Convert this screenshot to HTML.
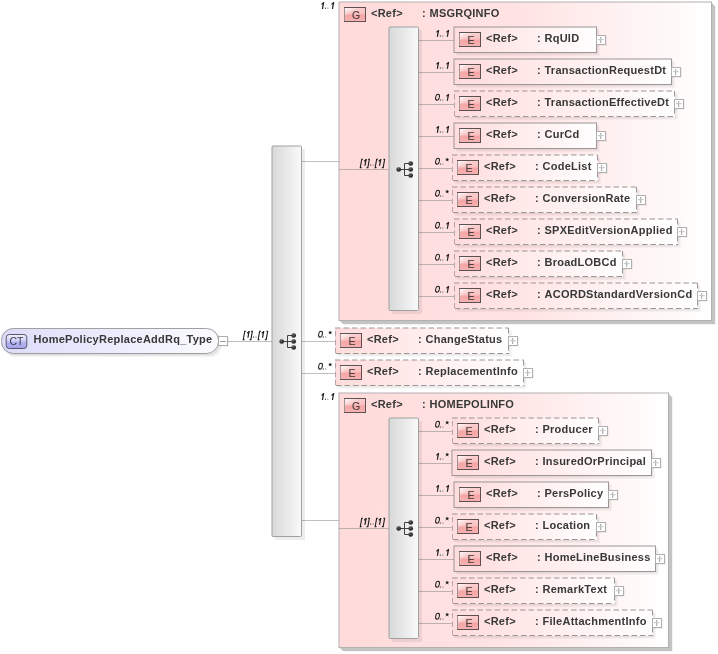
<!DOCTYPE html>
<html><head><meta charset="utf-8"><style>
html,body{margin:0;padding:0;background:#fff;width:718px;height:654px;overflow:hidden}
svg{display:block;will-change:transform}
text{font-family:"Liberation Sans", sans-serif}
text[font-weight=bold]{letter-spacing:0.25px}
.card{font-size:9px;font-style:italic;fill:#1a1a1a;stroke:#1a1a1a;stroke-width:0.2px}
.ctb{font-size:10.5px;fill:#3c3c4c}
.badge{font-size:10.5px;fill:#4a4040;stroke:#4a4040;stroke-width:0.12px}
</style></head><body>
<svg width="718" height="654" viewBox="0 0 718 654">
<defs>
<linearGradient id="grpgrad" x1="0" y1="0" x2="1" y2="0"><stop offset="0" stop-color="#ffdada"/><stop offset="0.5" stop-color="#ffe4e4"/><stop offset="1" stop-color="#ffffff"/></linearGradient>
<linearGradient id="elgrad" x1="0" y1="0" x2="1" y2="0"><stop offset="0" stop-color="#ffdcdc"/><stop offset="1" stop-color="#ffffff"/></linearGradient>
<linearGradient id="bargrad" x1="0" y1="0" x2="1" y2="0"><stop offset="0" stop-color="#d8d8d8"/><stop offset="1" stop-color="#fafafa"/></linearGradient>
<linearGradient id="egrad" x1="0" y1="0" x2="0" y2="1"><stop offset="0" stop-color="#fad0d0"/><stop offset="0.45" stop-color="#f9c0c0"/><stop offset="0.55" stop-color="#f5a4a4"/><stop offset="1" stop-color="#f8b4b4"/></linearGradient>
<linearGradient id="egrad2" x1="0" y1="0" x2="0.7" y2="0.8"><stop offset="0" stop-color="#fff" stop-opacity="0.95"/><stop offset="0.5" stop-color="#fff" stop-opacity="0.0"/><stop offset="1" stop-color="#fff" stop-opacity="0"/></linearGradient>
<linearGradient id="ctgrad" x1="0" y1="0" x2="1" y2="0"><stop offset="0" stop-color="#dcdcfa"/><stop offset="1" stop-color="#fbfbff"/></linearGradient>
<linearGradient id="ctbgrad" x1="0" y1="0" x2="0" y2="1"><stop offset="0" stop-color="#f0f0ff"/><stop offset="0.45" stop-color="#d0d0f8"/><stop offset="0.55" stop-color="#b4b4f2"/><stop offset="1" stop-color="#a4a4ee"/></linearGradient>
<radialGradient id="dotgrad" cx="0.4" cy="0.35" r="0.7"><stop offset="0" stop-color="#6a6a6a"/><stop offset="0.5" stop-color="#333"/><stop offset="1" stop-color="#222"/></radialGradient>
</defs>
<rect x="227" y="341" width="45" height="1" fill="#808080" fill-opacity="0.5"/>
<g transform="translate(242.60,337.70) skewX(-10)"><path d="M2.3 -6.5 H1.0 V1.9 H2.3" stroke="#1c1c1c" stroke-width="1.1" fill="none"/></g><g transform="translate(246.00,337.70) skewX(-10)"><rect x="1.35" y="-6.7" width="1.2" height="6.7" fill="#1c1c1c"/><path d="M2.3 -6.3 L0.3 -4.5" stroke="#1c1c1c" stroke-width="1.3" fill="none"/></g><g transform="translate(249.70,337.70) skewX(-10)"><path d="M0.2 -6.5 H1.5 V1.9 H0.2" stroke="#1c1c1c" stroke-width="1.1" fill="none"/></g><rect x="253.00" y="336.40" width="1.1" height="1.3" fill="#505050"/><rect x="255.50" y="336.40" width="1.1" height="1.3" fill="#8c8c8c"/><g transform="translate(257.50,337.70) skewX(-10)"><path d="M2.3 -6.5 H1.0 V1.9 H2.3" stroke="#1c1c1c" stroke-width="1.1" fill="none"/></g><g transform="translate(260.60,337.70) skewX(-10)"><rect x="1.35" y="-6.7" width="1.2" height="6.7" fill="#1c1c1c"/><path d="M2.3 -6.3 L0.3 -4.5" stroke="#1c1c1c" stroke-width="1.3" fill="none"/></g><g transform="translate(265.00,337.70) skewX(-10)"><path d="M0.2 -6.5 H1.5 V1.9 H0.2" stroke="#1c1c1c" stroke-width="1.1" fill="none"/></g>
<rect x="2" y="329" width="218" height="26" rx="12" fill="#000" fill-opacity="0.06"/>
<rect x="3" y="330" width="218" height="26" rx="12" fill="#000" fill-opacity="0.05"/>
<rect x="4" y="331" width="218" height="26" rx="12" fill="#000" fill-opacity="0.04"/>
<rect x="1" y="328" width="218" height="26" rx="12" fill="#fff"/>
<rect x="1" y="328" width="218" height="26" rx="12" fill="url(#ctgrad)"/>
<rect x="1.5" y="328.5" width="217" height="25" rx="12" fill="none" stroke="#a0a0a0" stroke-width="1"/>
<rect x="6.2" y="334.5" width="20.6" height="14" rx="3" fill="url(#ctbgrad)" stroke="#585868"/>
<text class="ctb" x="16.5" y="345" text-anchor="middle">CT</text>
<text x="33.5" y="343" font-size="11" font-weight="bold" font-style="normal" fill="#383838" text-anchor="start" >HomePolicyReplaceAddRq_Type</text>
<rect x="219" y="337" width="10" height="10" fill="#000" fill-opacity="0.05"/>
<rect x="218.5" y="336.5" width="9" height="9" fill="#fff" stroke="#b0b0b0"/>
<rect x="220" y="341" width="6" height="1" fill="#a0a0a0"/>
<rect x="302" y="341" width="34" height="1" fill="#808080" fill-opacity="0.5"/>
<g transform="translate(317.50,337.70) skewX(-10)"><ellipse cx="2.4" cy="-3.45" rx="1.85" ry="2.9" stroke="#1c1c1c" stroke-width="1.0" fill="none"/></g><rect x="322.80" y="336.40" width="1.1" height="1.3" fill="#505050"/><rect x="325.20" y="336.40" width="1.1" height="1.3" fill="#8c8c8c"/><g transform="translate(327.50,337.70)"><path d="M2.70 -5.00 L2.70 -6.90 M2.70 -5.00 L4.51 -5.59 M2.70 -5.00 L3.82 -3.46 M2.70 -5.00 L1.58 -3.46 M2.70 -5.00 L0.89 -5.59 " stroke="#1c1c1c" stroke-width="0.9" stroke-opacity="0.6" fill="none"/><circle cx="2.7" cy="-5.0" r="1.1" fill="#1c1c1c"/></g>
<rect x="336" y="329" width="174" height="26" rx="0" fill="#000" fill-opacity="0.03"/>
<rect x="337" y="330" width="174" height="26" rx="0" fill="#000" fill-opacity="0.03"/>
<rect x="338" y="331" width="174" height="26" rx="0" fill="#000" fill-opacity="0.03"/>
<rect x="335" y="328" width="174" height="26" rx="0" fill="#fff"/>
<rect x="335" y="328" width="174" height="26" rx="0" fill="url(#elgrad)"/>
<path d="M335 328 H508.5" stroke="#9c9696" stroke-width="1" fill="none" stroke-dasharray="5.5,3"/>
<path d="M335.5 331 V353" stroke="#9c9696" stroke-opacity="0.75" stroke-width="1" fill="none" stroke-dasharray="5.5,3"/>
<path d="M508.5 328 V353.5" stroke="#9c9696" stroke-width="1" fill="none" stroke-dasharray="5.5,3"/>
<path d="M336 353.5 H509" stroke="#9c9696" stroke-width="1" fill="none" stroke-dasharray="5.5,3"/>
<rect x="340.5" y="333.5" width="21" height="14" fill="url(#egrad)"/>
<rect x="340.5" y="333.5" width="21" height="14" fill="url(#egrad2)"/>
<rect x="340.5" y="333.5" width="21" height="14" fill="none" stroke="#5e5050"/>
<rect x="340" y="334" width="1" height="13" fill="#a09494"/>
<text class="badge" x="352" y="344.5" text-anchor="middle">E</text>
<text x="367" y="343" font-size="11" font-weight="bold" font-style="normal" fill="#383838" text-anchor="start" >&lt;Ref&gt;</text>
<text x="418" y="343" font-size="11" font-weight="bold" font-style="normal" fill="#383838" text-anchor="start" >:</text>
<text x="425.5" y="343" font-size="11" font-weight="bold" font-style="normal" fill="#383838" text-anchor="start" >ChangeStatus</text>
<rect x="509" y="337" width="10" height="10" fill="#000" fill-opacity="0.05"/>
<rect x="508.5" y="336.5" width="9" height="9" fill="#fff" stroke="#b0b0b0"/>
<rect x="512.0" y="338" width="1.2" height="6" fill="#b0b0b0"/>
<rect x="510.0" y="340.0" width="5.5" height="1.2" fill="#c8c8c8"/>
<rect x="302" y="373" width="34" height="1" fill="#808080" fill-opacity="0.5"/>
<g transform="translate(317.50,369.70) skewX(-10)"><ellipse cx="2.4" cy="-3.45" rx="1.85" ry="2.9" stroke="#1c1c1c" stroke-width="1.0" fill="none"/></g><rect x="322.80" y="368.40" width="1.1" height="1.3" fill="#505050"/><rect x="325.20" y="368.40" width="1.1" height="1.3" fill="#8c8c8c"/><g transform="translate(327.50,369.70)"><path d="M2.70 -5.00 L2.70 -6.90 M2.70 -5.00 L4.51 -5.59 M2.70 -5.00 L3.82 -3.46 M2.70 -5.00 L1.58 -3.46 M2.70 -5.00 L0.89 -5.59 " stroke="#1c1c1c" stroke-width="0.9" stroke-opacity="0.6" fill="none"/><circle cx="2.7" cy="-5.0" r="1.1" fill="#1c1c1c"/></g>
<rect x="336" y="361" width="189" height="26" rx="0" fill="#000" fill-opacity="0.03"/>
<rect x="337" y="362" width="189" height="26" rx="0" fill="#000" fill-opacity="0.03"/>
<rect x="338" y="363" width="189" height="26" rx="0" fill="#000" fill-opacity="0.03"/>
<rect x="335" y="360" width="189" height="26" rx="0" fill="#fff"/>
<rect x="335" y="360" width="189" height="26" rx="0" fill="url(#elgrad)"/>
<path d="M335 360 H523.5" stroke="#9c9696" stroke-width="1" fill="none" stroke-dasharray="5.5,3"/>
<path d="M335.5 363 V385" stroke="#9c9696" stroke-opacity="0.75" stroke-width="1" fill="none" stroke-dasharray="5.5,3"/>
<path d="M523.5 360 V385.5" stroke="#9c9696" stroke-width="1" fill="none" stroke-dasharray="5.5,3"/>
<path d="M336 385.5 H524" stroke="#9c9696" stroke-width="1" fill="none" stroke-dasharray="5.5,3"/>
<rect x="340.5" y="365.5" width="21" height="14" fill="url(#egrad)"/>
<rect x="340.5" y="365.5" width="21" height="14" fill="url(#egrad2)"/>
<rect x="340.5" y="365.5" width="21" height="14" fill="none" stroke="#5e5050"/>
<rect x="340" y="366" width="1" height="13" fill="#a09494"/>
<text class="badge" x="352" y="376.5" text-anchor="middle">E</text>
<text x="367" y="375" font-size="11" font-weight="bold" font-style="normal" fill="#383838" text-anchor="start" >&lt;Ref&gt;</text>
<text x="418" y="375" font-size="11" font-weight="bold" font-style="normal" fill="#383838" text-anchor="start" >:</text>
<text x="425.5" y="375" font-size="11" font-weight="bold" font-style="normal" fill="#383838" text-anchor="start" >ReplacementInfo</text>
<rect x="524" y="369" width="10" height="10" fill="#000" fill-opacity="0.05"/>
<rect x="523.5" y="368.5" width="9" height="9" fill="#fff" stroke="#b0b0b0"/>
<rect x="527.0" y="370" width="1.2" height="6" fill="#b0b0b0"/>
<rect x="525.0" y="372.0" width="5.5" height="1.2" fill="#c8c8c8"/>
<rect x="302" y="161" width="37" height="1" fill="#808080" fill-opacity="0.5"/>
<g transform="translate(320.50,8.90) skewX(-10)"><rect x="1.35" y="-6.7" width="1.2" height="6.7" fill="#1c1c1c"/><path d="M2.3 -6.3 L0.3 -4.5" stroke="#1c1c1c" stroke-width="1.3" fill="none"/></g><rect x="324.90" y="7.60" width="1.1" height="1.3" fill="#505050"/><rect x="327.30" y="7.60" width="1.1" height="1.3" fill="#8c8c8c"/><g transform="translate(330.50,8.90) skewX(-10)"><rect x="1.35" y="-6.7" width="1.2" height="6.7" fill="#1c1c1c"/><path d="M2.3 -6.3 L0.3 -4.5" stroke="#1c1c1c" stroke-width="1.3" fill="none"/></g>
<path d="M712 3 L715 6 V324 H343 L340 321 H712 Z" fill="#000" fill-opacity="0.23"/>
<path d="M715 6 H716 V325 H344 V324 H715 Z" fill="#000" fill-opacity="0.05"/>
<rect x="339" y="2" width="373" height="319" rx="0" fill="#fff"/>
<rect x="339" y="2" width="373" height="319" rx="0" fill="url(#grpgrad)"/>
<rect x="339" y="2" width="372.5" height="318.5" rx="0" fill="none" stroke="#b4b0b0" stroke-width="1"/>
<rect x="344.5" y="7.5" width="21" height="14" fill="url(#egrad)"/>
<rect x="344.5" y="7.5" width="21" height="14" fill="url(#egrad2)"/>
<rect x="344.5" y="7.5" width="21" height="14" fill="none" stroke="#5e5050"/>
<rect x="344" y="8" width="1" height="13" fill="#a09494"/>
<text class="badge" x="356" y="18.5" text-anchor="middle">G</text>
<text x="371" y="17" font-size="11" font-weight="bold" font-style="normal" fill="#383838" text-anchor="start" >&lt;Ref&gt;</text>
<text x="422" y="17" font-size="11" font-weight="bold" font-style="normal" fill="#383838" text-anchor="start" >:</text>
<text x="429.5" y="17" font-size="11" font-weight="bold" font-style="normal" fill="#383838" text-anchor="start" >MSGRQINFO</text>
<rect x="339" y="169" width="50" height="1" fill="#808080" fill-opacity="0.5"/>
<g transform="translate(359.60,165.70) skewX(-10)"><path d="M2.3 -6.5 H1.0 V1.9 H2.3" stroke="#1c1c1c" stroke-width="1.1" fill="none"/></g><g transform="translate(363.00,165.70) skewX(-10)"><rect x="1.35" y="-6.7" width="1.2" height="6.7" fill="#1c1c1c"/><path d="M2.3 -6.3 L0.3 -4.5" stroke="#1c1c1c" stroke-width="1.3" fill="none"/></g><g transform="translate(366.70,165.70) skewX(-10)"><path d="M0.2 -6.5 H1.5 V1.9 H0.2" stroke="#1c1c1c" stroke-width="1.1" fill="none"/></g><rect x="370.00" y="164.40" width="1.1" height="1.3" fill="#505050"/><rect x="372.50" y="164.40" width="1.1" height="1.3" fill="#8c8c8c"/><g transform="translate(374.50,165.70) skewX(-10)"><path d="M2.3 -6.5 H1.0 V1.9 H2.3" stroke="#1c1c1c" stroke-width="1.1" fill="none"/></g><g transform="translate(377.60,165.70) skewX(-10)"><rect x="1.35" y="-6.7" width="1.2" height="6.7" fill="#1c1c1c"/><path d="M2.3 -6.3 L0.3 -4.5" stroke="#1c1c1c" stroke-width="1.3" fill="none"/></g><g transform="translate(382.00,165.70) skewX(-10)"><path d="M0.2 -6.5 H1.5 V1.9 H0.2" stroke="#1c1c1c" stroke-width="1.1" fill="none"/></g>
<rect x="419" y="40" width="36" height="1" fill="#808080" fill-opacity="0.5"/>
<g transform="translate(435.40,36.70) skewX(-10)"><rect x="1.35" y="-6.7" width="1.2" height="6.7" fill="#1c1c1c"/><path d="M2.3 -6.3 L0.3 -4.5" stroke="#1c1c1c" stroke-width="1.3" fill="none"/></g><rect x="439.80" y="35.40" width="1.1" height="1.3" fill="#505050"/><rect x="442.20" y="35.40" width="1.1" height="1.3" fill="#8c8c8c"/><g transform="translate(445.40,36.70) skewX(-10)"><rect x="1.35" y="-6.7" width="1.2" height="6.7" fill="#1c1c1c"/><path d="M2.3 -6.3 L0.3 -4.5" stroke="#1c1c1c" stroke-width="1.3" fill="none"/></g>
<rect x="455" y="28" width="143" height="26" rx="0" fill="#000" fill-opacity="0.03"/>
<rect x="456" y="29" width="143" height="26" rx="0" fill="#000" fill-opacity="0.03"/>
<rect x="457" y="30" width="143" height="26" rx="0" fill="#000" fill-opacity="0.03"/>
<rect x="454" y="27" width="143" height="26" rx="0" fill="#fff"/>
<rect x="454" y="27" width="143" height="26" rx="0" fill="url(#elgrad)"/>
<rect x="454" y="27" width="142.5" height="25.5" rx="0" fill="none" stroke="#9c9696" stroke-width="1"/>
<rect x="459.5" y="32.5" width="21" height="14" fill="url(#egrad)"/>
<rect x="459.5" y="32.5" width="21" height="14" fill="url(#egrad2)"/>
<rect x="459.5" y="32.5" width="21" height="14" fill="none" stroke="#5e5050"/>
<rect x="459" y="33" width="1" height="13" fill="#a09494"/>
<text class="badge" x="471" y="43.5" text-anchor="middle">E</text>
<text x="486" y="42" font-size="11" font-weight="bold" font-style="normal" fill="#383838" text-anchor="start" >&lt;Ref&gt;</text>
<text x="537" y="42" font-size="11" font-weight="bold" font-style="normal" fill="#383838" text-anchor="start" >:</text>
<text x="544.5" y="42" font-size="11" font-weight="bold" font-style="normal" fill="#383838" text-anchor="start" >RqUID</text>
<rect x="597" y="36" width="10" height="10" fill="#000" fill-opacity="0.05"/>
<rect x="596.5" y="35.5" width="9" height="9" fill="#fff" stroke="#b0b0b0"/>
<rect x="600.0" y="37" width="1.2" height="6" fill="#b0b0b0"/>
<rect x="598.0" y="39.0" width="5.5" height="1.2" fill="#c8c8c8"/>
<rect x="419" y="72" width="36" height="1" fill="#808080" fill-opacity="0.5"/>
<g transform="translate(435.40,68.70) skewX(-10)"><rect x="1.35" y="-6.7" width="1.2" height="6.7" fill="#1c1c1c"/><path d="M2.3 -6.3 L0.3 -4.5" stroke="#1c1c1c" stroke-width="1.3" fill="none"/></g><rect x="439.80" y="67.40" width="1.1" height="1.3" fill="#505050"/><rect x="442.20" y="67.40" width="1.1" height="1.3" fill="#8c8c8c"/><g transform="translate(445.40,68.70) skewX(-10)"><rect x="1.35" y="-6.7" width="1.2" height="6.7" fill="#1c1c1c"/><path d="M2.3 -6.3 L0.3 -4.5" stroke="#1c1c1c" stroke-width="1.3" fill="none"/></g>
<rect x="455" y="60" width="218" height="26" rx="0" fill="#000" fill-opacity="0.03"/>
<rect x="456" y="61" width="218" height="26" rx="0" fill="#000" fill-opacity="0.03"/>
<rect x="457" y="62" width="218" height="26" rx="0" fill="#000" fill-opacity="0.03"/>
<rect x="454" y="59" width="218" height="26" rx="0" fill="#fff"/>
<rect x="454" y="59" width="218" height="26" rx="0" fill="url(#elgrad)"/>
<rect x="454" y="59" width="217.5" height="25.5" rx="0" fill="none" stroke="#9c9696" stroke-width="1"/>
<rect x="459.5" y="64.5" width="21" height="14" fill="url(#egrad)"/>
<rect x="459.5" y="64.5" width="21" height="14" fill="url(#egrad2)"/>
<rect x="459.5" y="64.5" width="21" height="14" fill="none" stroke="#5e5050"/>
<rect x="459" y="65" width="1" height="13" fill="#a09494"/>
<text class="badge" x="471" y="75.5" text-anchor="middle">E</text>
<text x="486" y="74" font-size="11" font-weight="bold" font-style="normal" fill="#383838" text-anchor="start" >&lt;Ref&gt;</text>
<text x="537" y="74" font-size="11" font-weight="bold" font-style="normal" fill="#383838" text-anchor="start" >:</text>
<text x="544.5" y="74" font-size="11" font-weight="bold" font-style="normal" fill="#383838" text-anchor="start" >TransactionRequestDt</text>
<rect x="672" y="68" width="10" height="10" fill="#000" fill-opacity="0.05"/>
<rect x="671.5" y="67.5" width="9" height="9" fill="#fff" stroke="#b0b0b0"/>
<rect x="675.0" y="69" width="1.2" height="6" fill="#b0b0b0"/>
<rect x="673.0" y="71.0" width="5.5" height="1.2" fill="#c8c8c8"/>
<rect x="419" y="104" width="36" height="1" fill="#808080" fill-opacity="0.5"/>
<g transform="translate(434.50,100.70) skewX(-10)"><ellipse cx="2.4" cy="-3.45" rx="1.85" ry="2.9" stroke="#1c1c1c" stroke-width="1.0" fill="none"/></g><rect x="439.80" y="99.40" width="1.1" height="1.3" fill="#505050"/><rect x="442.20" y="99.40" width="1.1" height="1.3" fill="#8c8c8c"/><g transform="translate(445.40,100.70) skewX(-10)"><rect x="1.35" y="-6.7" width="1.2" height="6.7" fill="#1c1c1c"/><path d="M2.3 -6.3 L0.3 -4.5" stroke="#1c1c1c" stroke-width="1.3" fill="none"/></g>
<rect x="455" y="92" width="221" height="26" rx="0" fill="#000" fill-opacity="0.03"/>
<rect x="456" y="93" width="221" height="26" rx="0" fill="#000" fill-opacity="0.03"/>
<rect x="457" y="94" width="221" height="26" rx="0" fill="#000" fill-opacity="0.03"/>
<rect x="454" y="91" width="221" height="26" rx="0" fill="#fff"/>
<rect x="454" y="91" width="221" height="26" rx="0" fill="url(#elgrad)"/>
<path d="M454 91 H674.5" stroke="#9c9696" stroke-width="1" fill="none" stroke-dasharray="5.5,3"/>
<path d="M454.5 94 V116" stroke="#9c9696" stroke-opacity="0.75" stroke-width="1" fill="none" stroke-dasharray="5.5,3"/>
<path d="M674.5 91 V116.5" stroke="#9c9696" stroke-width="1" fill="none" stroke-dasharray="5.5,3"/>
<path d="M455 116.5 H675" stroke="#9c9696" stroke-width="1" fill="none" stroke-dasharray="5.5,3"/>
<rect x="459.5" y="96.5" width="21" height="14" fill="url(#egrad)"/>
<rect x="459.5" y="96.5" width="21" height="14" fill="url(#egrad2)"/>
<rect x="459.5" y="96.5" width="21" height="14" fill="none" stroke="#5e5050"/>
<rect x="459" y="97" width="1" height="13" fill="#a09494"/>
<text class="badge" x="471" y="107.5" text-anchor="middle">E</text>
<text x="486" y="106" font-size="11" font-weight="bold" font-style="normal" fill="#383838" text-anchor="start" >&lt;Ref&gt;</text>
<text x="537" y="106" font-size="11" font-weight="bold" font-style="normal" fill="#383838" text-anchor="start" >:</text>
<text x="544.5" y="106" font-size="11" font-weight="bold" font-style="normal" fill="#383838" text-anchor="start" >TransactionEffectiveDt</text>
<rect x="675" y="100" width="10" height="10" fill="#000" fill-opacity="0.05"/>
<rect x="674.5" y="99.5" width="9" height="9" fill="#fff" stroke="#b0b0b0"/>
<rect x="678.0" y="101" width="1.2" height="6" fill="#b0b0b0"/>
<rect x="676.0" y="103.0" width="5.5" height="1.2" fill="#c8c8c8"/>
<rect x="419" y="136" width="36" height="1" fill="#808080" fill-opacity="0.5"/>
<g transform="translate(435.40,132.70) skewX(-10)"><rect x="1.35" y="-6.7" width="1.2" height="6.7" fill="#1c1c1c"/><path d="M2.3 -6.3 L0.3 -4.5" stroke="#1c1c1c" stroke-width="1.3" fill="none"/></g><rect x="439.80" y="131.40" width="1.1" height="1.3" fill="#505050"/><rect x="442.20" y="131.40" width="1.1" height="1.3" fill="#8c8c8c"/><g transform="translate(445.40,132.70) skewX(-10)"><rect x="1.35" y="-6.7" width="1.2" height="6.7" fill="#1c1c1c"/><path d="M2.3 -6.3 L0.3 -4.5" stroke="#1c1c1c" stroke-width="1.3" fill="none"/></g>
<rect x="455" y="124" width="143" height="26" rx="0" fill="#000" fill-opacity="0.03"/>
<rect x="456" y="125" width="143" height="26" rx="0" fill="#000" fill-opacity="0.03"/>
<rect x="457" y="126" width="143" height="26" rx="0" fill="#000" fill-opacity="0.03"/>
<rect x="454" y="123" width="143" height="26" rx="0" fill="#fff"/>
<rect x="454" y="123" width="143" height="26" rx="0" fill="url(#elgrad)"/>
<rect x="454" y="123" width="142.5" height="25.5" rx="0" fill="none" stroke="#9c9696" stroke-width="1"/>
<rect x="459.5" y="128.5" width="21" height="14" fill="url(#egrad)"/>
<rect x="459.5" y="128.5" width="21" height="14" fill="url(#egrad2)"/>
<rect x="459.5" y="128.5" width="21" height="14" fill="none" stroke="#5e5050"/>
<rect x="459" y="129" width="1" height="13" fill="#a09494"/>
<text class="badge" x="471" y="139.5" text-anchor="middle">E</text>
<text x="486" y="138" font-size="11" font-weight="bold" font-style="normal" fill="#383838" text-anchor="start" >&lt;Ref&gt;</text>
<text x="537" y="138" font-size="11" font-weight="bold" font-style="normal" fill="#383838" text-anchor="start" >:</text>
<text x="544.5" y="138" font-size="11" font-weight="bold" font-style="normal" fill="#383838" text-anchor="start" >CurCd</text>
<rect x="597" y="132" width="10" height="10" fill="#000" fill-opacity="0.05"/>
<rect x="596.5" y="131.5" width="9" height="9" fill="#fff" stroke="#b0b0b0"/>
<rect x="600.0" y="133" width="1.2" height="6" fill="#b0b0b0"/>
<rect x="598.0" y="135.0" width="5.5" height="1.2" fill="#c8c8c8"/>
<rect x="419" y="168" width="34" height="1" fill="#808080" fill-opacity="0.5"/>
<g transform="translate(434.50,164.70) skewX(-10)"><ellipse cx="2.4" cy="-3.45" rx="1.85" ry="2.9" stroke="#1c1c1c" stroke-width="1.0" fill="none"/></g><rect x="439.80" y="163.40" width="1.1" height="1.3" fill="#505050"/><rect x="442.20" y="163.40" width="1.1" height="1.3" fill="#8c8c8c"/><g transform="translate(444.50,164.70)"><path d="M2.70 -5.00 L2.70 -6.90 M2.70 -5.00 L4.51 -5.59 M2.70 -5.00 L3.82 -3.46 M2.70 -5.00 L1.58 -3.46 M2.70 -5.00 L0.89 -5.59 " stroke="#1c1c1c" stroke-width="0.9" stroke-opacity="0.6" fill="none"/><circle cx="2.7" cy="-5.0" r="1.1" fill="#1c1c1c"/></g>
<rect x="453" y="156" width="146" height="26" rx="0" fill="#000" fill-opacity="0.03"/>
<rect x="454" y="157" width="146" height="26" rx="0" fill="#000" fill-opacity="0.03"/>
<rect x="455" y="158" width="146" height="26" rx="0" fill="#000" fill-opacity="0.03"/>
<rect x="452" y="155" width="146" height="26" rx="0" fill="#fff"/>
<rect x="452" y="155" width="146" height="26" rx="0" fill="url(#elgrad)"/>
<path d="M452 155 H597.5" stroke="#9c9696" stroke-width="1" fill="none" stroke-dasharray="5.5,3"/>
<path d="M452.5 158 V180" stroke="#9c9696" stroke-opacity="0.75" stroke-width="1" fill="none" stroke-dasharray="5.5,3"/>
<path d="M597.5 155 V180.5" stroke="#9c9696" stroke-width="1" fill="none" stroke-dasharray="5.5,3"/>
<path d="M453 180.5 H598" stroke="#9c9696" stroke-width="1" fill="none" stroke-dasharray="5.5,3"/>
<rect x="457.5" y="160.5" width="21" height="14" fill="url(#egrad)"/>
<rect x="457.5" y="160.5" width="21" height="14" fill="url(#egrad2)"/>
<rect x="457.5" y="160.5" width="21" height="14" fill="none" stroke="#5e5050"/>
<rect x="457" y="161" width="1" height="13" fill="#a09494"/>
<text class="badge" x="469" y="171.5" text-anchor="middle">E</text>
<text x="484" y="170" font-size="11" font-weight="bold" font-style="normal" fill="#383838" text-anchor="start" >&lt;Ref&gt;</text>
<text x="535" y="170" font-size="11" font-weight="bold" font-style="normal" fill="#383838" text-anchor="start" >:</text>
<text x="542.5" y="170" font-size="11" font-weight="bold" font-style="normal" fill="#383838" text-anchor="start" >CodeList</text>
<rect x="598" y="164" width="10" height="10" fill="#000" fill-opacity="0.05"/>
<rect x="597.5" y="163.5" width="9" height="9" fill="#fff" stroke="#b0b0b0"/>
<rect x="601.0" y="165" width="1.2" height="6" fill="#b0b0b0"/>
<rect x="599.0" y="167.0" width="5.5" height="1.2" fill="#c8c8c8"/>
<rect x="419" y="200" width="34" height="1" fill="#808080" fill-opacity="0.5"/>
<g transform="translate(434.50,196.70) skewX(-10)"><ellipse cx="2.4" cy="-3.45" rx="1.85" ry="2.9" stroke="#1c1c1c" stroke-width="1.0" fill="none"/></g><rect x="439.80" y="195.40" width="1.1" height="1.3" fill="#505050"/><rect x="442.20" y="195.40" width="1.1" height="1.3" fill="#8c8c8c"/><g transform="translate(444.50,196.70)"><path d="M2.70 -5.00 L2.70 -6.90 M2.70 -5.00 L4.51 -5.59 M2.70 -5.00 L3.82 -3.46 M2.70 -5.00 L1.58 -3.46 M2.70 -5.00 L0.89 -5.59 " stroke="#1c1c1c" stroke-width="0.9" stroke-opacity="0.6" fill="none"/><circle cx="2.7" cy="-5.0" r="1.1" fill="#1c1c1c"/></g>
<rect x="453" y="188" width="185" height="26" rx="0" fill="#000" fill-opacity="0.03"/>
<rect x="454" y="189" width="185" height="26" rx="0" fill="#000" fill-opacity="0.03"/>
<rect x="455" y="190" width="185" height="26" rx="0" fill="#000" fill-opacity="0.03"/>
<rect x="452" y="187" width="185" height="26" rx="0" fill="#fff"/>
<rect x="452" y="187" width="185" height="26" rx="0" fill="url(#elgrad)"/>
<path d="M452 187 H636.5" stroke="#9c9696" stroke-width="1" fill="none" stroke-dasharray="5.5,3"/>
<path d="M452.5 190 V212" stroke="#9c9696" stroke-opacity="0.75" stroke-width="1" fill="none" stroke-dasharray="5.5,3"/>
<path d="M636.5 187 V212.5" stroke="#9c9696" stroke-width="1" fill="none" stroke-dasharray="5.5,3"/>
<path d="M453 212.5 H637" stroke="#9c9696" stroke-width="1" fill="none" stroke-dasharray="5.5,3"/>
<rect x="457.5" y="192.5" width="21" height="14" fill="url(#egrad)"/>
<rect x="457.5" y="192.5" width="21" height="14" fill="url(#egrad2)"/>
<rect x="457.5" y="192.5" width="21" height="14" fill="none" stroke="#5e5050"/>
<rect x="457" y="193" width="1" height="13" fill="#a09494"/>
<text class="badge" x="469" y="203.5" text-anchor="middle">E</text>
<text x="484" y="202" font-size="11" font-weight="bold" font-style="normal" fill="#383838" text-anchor="start" >&lt;Ref&gt;</text>
<text x="535" y="202" font-size="11" font-weight="bold" font-style="normal" fill="#383838" text-anchor="start" >:</text>
<text x="542.5" y="202" font-size="11" font-weight="bold" font-style="normal" fill="#383838" text-anchor="start" >ConversionRate</text>
<rect x="637" y="196" width="10" height="10" fill="#000" fill-opacity="0.05"/>
<rect x="636.5" y="195.5" width="9" height="9" fill="#fff" stroke="#b0b0b0"/>
<rect x="640.0" y="197" width="1.2" height="6" fill="#b0b0b0"/>
<rect x="638.0" y="199.0" width="5.5" height="1.2" fill="#c8c8c8"/>
<rect x="419" y="232" width="36" height="1" fill="#808080" fill-opacity="0.5"/>
<g transform="translate(434.50,228.70) skewX(-10)"><ellipse cx="2.4" cy="-3.45" rx="1.85" ry="2.9" stroke="#1c1c1c" stroke-width="1.0" fill="none"/></g><rect x="439.80" y="227.40" width="1.1" height="1.3" fill="#505050"/><rect x="442.20" y="227.40" width="1.1" height="1.3" fill="#8c8c8c"/><g transform="translate(445.40,228.70) skewX(-10)"><rect x="1.35" y="-6.7" width="1.2" height="6.7" fill="#1c1c1c"/><path d="M2.3 -6.3 L0.3 -4.5" stroke="#1c1c1c" stroke-width="1.3" fill="none"/></g>
<rect x="455" y="220" width="224" height="26" rx="0" fill="#000" fill-opacity="0.03"/>
<rect x="456" y="221" width="224" height="26" rx="0" fill="#000" fill-opacity="0.03"/>
<rect x="457" y="222" width="224" height="26" rx="0" fill="#000" fill-opacity="0.03"/>
<rect x="454" y="219" width="224" height="26" rx="0" fill="#fff"/>
<rect x="454" y="219" width="224" height="26" rx="0" fill="url(#elgrad)"/>
<path d="M454 219 H677.5" stroke="#9c9696" stroke-width="1" fill="none" stroke-dasharray="5.5,3"/>
<path d="M454.5 222 V244" stroke="#9c9696" stroke-opacity="0.75" stroke-width="1" fill="none" stroke-dasharray="5.5,3"/>
<path d="M677.5 219 V244.5" stroke="#9c9696" stroke-width="1" fill="none" stroke-dasharray="5.5,3"/>
<path d="M455 244.5 H678" stroke="#9c9696" stroke-width="1" fill="none" stroke-dasharray="5.5,3"/>
<rect x="459.5" y="224.5" width="21" height="14" fill="url(#egrad)"/>
<rect x="459.5" y="224.5" width="21" height="14" fill="url(#egrad2)"/>
<rect x="459.5" y="224.5" width="21" height="14" fill="none" stroke="#5e5050"/>
<rect x="459" y="225" width="1" height="13" fill="#a09494"/>
<text class="badge" x="471" y="235.5" text-anchor="middle">E</text>
<text x="486" y="234" font-size="11" font-weight="bold" font-style="normal" fill="#383838" text-anchor="start" >&lt;Ref&gt;</text>
<text x="537" y="234" font-size="11" font-weight="bold" font-style="normal" fill="#383838" text-anchor="start" >:</text>
<text x="544.5" y="234" font-size="11" font-weight="bold" font-style="normal" fill="#383838" text-anchor="start" >SPXEditVersionApplied</text>
<rect x="678" y="228" width="10" height="10" fill="#000" fill-opacity="0.05"/>
<rect x="677.5" y="227.5" width="9" height="9" fill="#fff" stroke="#b0b0b0"/>
<rect x="681.0" y="229" width="1.2" height="6" fill="#b0b0b0"/>
<rect x="679.0" y="231.0" width="5.5" height="1.2" fill="#c8c8c8"/>
<rect x="419" y="264" width="36" height="1" fill="#808080" fill-opacity="0.5"/>
<g transform="translate(434.50,260.70) skewX(-10)"><ellipse cx="2.4" cy="-3.45" rx="1.85" ry="2.9" stroke="#1c1c1c" stroke-width="1.0" fill="none"/></g><rect x="439.80" y="259.40" width="1.1" height="1.3" fill="#505050"/><rect x="442.20" y="259.40" width="1.1" height="1.3" fill="#8c8c8c"/><g transform="translate(445.40,260.70) skewX(-10)"><rect x="1.35" y="-6.7" width="1.2" height="6.7" fill="#1c1c1c"/><path d="M2.3 -6.3 L0.3 -4.5" stroke="#1c1c1c" stroke-width="1.3" fill="none"/></g>
<rect x="455" y="252" width="169" height="26" rx="0" fill="#000" fill-opacity="0.03"/>
<rect x="456" y="253" width="169" height="26" rx="0" fill="#000" fill-opacity="0.03"/>
<rect x="457" y="254" width="169" height="26" rx="0" fill="#000" fill-opacity="0.03"/>
<rect x="454" y="251" width="169" height="26" rx="0" fill="#fff"/>
<rect x="454" y="251" width="169" height="26" rx="0" fill="url(#elgrad)"/>
<path d="M454 251 H622.5" stroke="#9c9696" stroke-width="1" fill="none" stroke-dasharray="5.5,3"/>
<path d="M454.5 254 V276" stroke="#9c9696" stroke-opacity="0.75" stroke-width="1" fill="none" stroke-dasharray="5.5,3"/>
<path d="M622.5 251 V276.5" stroke="#9c9696" stroke-width="1" fill="none" stroke-dasharray="5.5,3"/>
<path d="M455 276.5 H623" stroke="#9c9696" stroke-width="1" fill="none" stroke-dasharray="5.5,3"/>
<rect x="459.5" y="256.5" width="21" height="14" fill="url(#egrad)"/>
<rect x="459.5" y="256.5" width="21" height="14" fill="url(#egrad2)"/>
<rect x="459.5" y="256.5" width="21" height="14" fill="none" stroke="#5e5050"/>
<rect x="459" y="257" width="1" height="13" fill="#a09494"/>
<text class="badge" x="471" y="267.5" text-anchor="middle">E</text>
<text x="486" y="266" font-size="11" font-weight="bold" font-style="normal" fill="#383838" text-anchor="start" >&lt;Ref&gt;</text>
<text x="537" y="266" font-size="11" font-weight="bold" font-style="normal" fill="#383838" text-anchor="start" >:</text>
<text x="544.5" y="266" font-size="11" font-weight="bold" font-style="normal" fill="#383838" text-anchor="start" >BroadLOBCd</text>
<rect x="623" y="260" width="10" height="10" fill="#000" fill-opacity="0.05"/>
<rect x="622.5" y="259.5" width="9" height="9" fill="#fff" stroke="#b0b0b0"/>
<rect x="626.0" y="261" width="1.2" height="6" fill="#b0b0b0"/>
<rect x="624.0" y="263.0" width="5.5" height="1.2" fill="#c8c8c8"/>
<rect x="419" y="296" width="36" height="1" fill="#808080" fill-opacity="0.5"/>
<g transform="translate(434.50,292.70) skewX(-10)"><ellipse cx="2.4" cy="-3.45" rx="1.85" ry="2.9" stroke="#1c1c1c" stroke-width="1.0" fill="none"/></g><rect x="439.80" y="291.40" width="1.1" height="1.3" fill="#505050"/><rect x="442.20" y="291.40" width="1.1" height="1.3" fill="#8c8c8c"/><g transform="translate(445.40,292.70) skewX(-10)"><rect x="1.35" y="-6.7" width="1.2" height="6.7" fill="#1c1c1c"/><path d="M2.3 -6.3 L0.3 -4.5" stroke="#1c1c1c" stroke-width="1.3" fill="none"/></g>
<rect x="455" y="284" width="244" height="26" rx="0" fill="#000" fill-opacity="0.03"/>
<rect x="456" y="285" width="244" height="26" rx="0" fill="#000" fill-opacity="0.03"/>
<rect x="457" y="286" width="244" height="26" rx="0" fill="#000" fill-opacity="0.03"/>
<rect x="454" y="283" width="244" height="26" rx="0" fill="#fff"/>
<rect x="454" y="283" width="244" height="26" rx="0" fill="url(#elgrad)"/>
<path d="M454 283 H697.5" stroke="#9c9696" stroke-width="1" fill="none" stroke-dasharray="5.5,3"/>
<path d="M454.5 286 V308" stroke="#9c9696" stroke-opacity="0.75" stroke-width="1" fill="none" stroke-dasharray="5.5,3"/>
<path d="M697.5 283 V308.5" stroke="#9c9696" stroke-width="1" fill="none" stroke-dasharray="5.5,3"/>
<path d="M455 308.5 H698" stroke="#9c9696" stroke-width="1" fill="none" stroke-dasharray="5.5,3"/>
<rect x="459.5" y="288.5" width="21" height="14" fill="url(#egrad)"/>
<rect x="459.5" y="288.5" width="21" height="14" fill="url(#egrad2)"/>
<rect x="459.5" y="288.5" width="21" height="14" fill="none" stroke="#5e5050"/>
<rect x="459" y="289" width="1" height="13" fill="#a09494"/>
<text class="badge" x="471" y="299.5" text-anchor="middle">E</text>
<text x="486" y="298" font-size="11" font-weight="bold" font-style="normal" fill="#383838" text-anchor="start" >&lt;Ref&gt;</text>
<text x="537" y="298" font-size="11" font-weight="bold" font-style="normal" fill="#383838" text-anchor="start" >:</text>
<text x="544.5" y="298" font-size="11" font-weight="bold" font-style="normal" fill="#383838" text-anchor="start" >ACORDStandardVersionCd</text>
<rect x="698" y="292" width="10" height="10" fill="#000" fill-opacity="0.05"/>
<rect x="697.5" y="291.5" width="9" height="9" fill="#fff" stroke="#b0b0b0"/>
<rect x="701.0" y="293" width="1.2" height="6" fill="#b0b0b0"/>
<rect x="699.0" y="295.0" width="5.5" height="1.2" fill="#c8c8c8"/>
<rect x="392" y="30" width="30" height="284" fill="#000" fill-opacity="0.07"/>
<rect x="389" y="27" width="30" height="284" rx="1" fill="#fff"/>
<rect x="389" y="27" width="30" height="284" rx="1" fill="url(#bargrad)"/>
<rect x="389" y="27" width="29.5" height="283.5" rx="1" fill="none" stroke="#a0a0a0" stroke-width="1"/>
<path d="M398.7 169.5 H410.7 M410.7 163.5 H404.5 V175.5 H410.7" fill="none" stroke="#404040" stroke-width="1"/>
<circle cx="398.7" cy="169.5" r="2.35" fill="url(#dotgrad)"/>
<circle cx="410.7" cy="163.5" r="2.35" fill="url(#dotgrad)"/>
<circle cx="410.7" cy="169.5" r="2.35" fill="url(#dotgrad)"/>
<circle cx="410.7" cy="175.5" r="2.35" fill="url(#dotgrad)"/>
<rect x="302" y="520" width="37" height="1" fill="#808080" fill-opacity="0.5"/>
<g transform="translate(320.50,399.90) skewX(-10)"><rect x="1.35" y="-6.7" width="1.2" height="6.7" fill="#1c1c1c"/><path d="M2.3 -6.3 L0.3 -4.5" stroke="#1c1c1c" stroke-width="1.3" fill="none"/></g><rect x="324.90" y="398.60" width="1.1" height="1.3" fill="#505050"/><rect x="327.30" y="398.60" width="1.1" height="1.3" fill="#8c8c8c"/><g transform="translate(330.50,399.90) skewX(-10)"><rect x="1.35" y="-6.7" width="1.2" height="6.7" fill="#1c1c1c"/><path d="M2.3 -6.3 L0.3 -4.5" stroke="#1c1c1c" stroke-width="1.3" fill="none"/></g>
<path d="M669 394 L672 397 V651 H343 L340 648 H669 Z" fill="#000" fill-opacity="0.23"/>
<path d="M672 397 H673 V652 H344 V651 H672 Z" fill="#000" fill-opacity="0.05"/>
<rect x="339" y="393" width="330" height="255" rx="0" fill="#fff"/>
<rect x="339" y="393" width="330" height="255" rx="0" fill="url(#grpgrad)"/>
<rect x="339" y="393" width="329.5" height="254.5" rx="0" fill="none" stroke="#b4b0b0" stroke-width="1"/>
<rect x="344.5" y="398.5" width="21" height="14" fill="url(#egrad)"/>
<rect x="344.5" y="398.5" width="21" height="14" fill="url(#egrad2)"/>
<rect x="344.5" y="398.5" width="21" height="14" fill="none" stroke="#5e5050"/>
<rect x="344" y="399" width="1" height="13" fill="#a09494"/>
<text class="badge" x="356" y="409.5" text-anchor="middle">G</text>
<text x="371" y="408" font-size="11" font-weight="bold" font-style="normal" fill="#383838" text-anchor="start" >&lt;Ref&gt;</text>
<text x="422" y="408" font-size="11" font-weight="bold" font-style="normal" fill="#383838" text-anchor="start" >:</text>
<text x="429.5" y="408" font-size="11" font-weight="bold" font-style="normal" fill="#383838" text-anchor="start" >HOMEPOLINFO</text>
<rect x="339" y="528" width="50" height="1" fill="#808080" fill-opacity="0.5"/>
<g transform="translate(359.60,524.70) skewX(-10)"><path d="M2.3 -6.5 H1.0 V1.9 H2.3" stroke="#1c1c1c" stroke-width="1.1" fill="none"/></g><g transform="translate(363.00,524.70) skewX(-10)"><rect x="1.35" y="-6.7" width="1.2" height="6.7" fill="#1c1c1c"/><path d="M2.3 -6.3 L0.3 -4.5" stroke="#1c1c1c" stroke-width="1.3" fill="none"/></g><g transform="translate(366.70,524.70) skewX(-10)"><path d="M0.2 -6.5 H1.5 V1.9 H0.2" stroke="#1c1c1c" stroke-width="1.1" fill="none"/></g><rect x="370.00" y="523.40" width="1.1" height="1.3" fill="#505050"/><rect x="372.50" y="523.40" width="1.1" height="1.3" fill="#8c8c8c"/><g transform="translate(374.50,524.70) skewX(-10)"><path d="M2.3 -6.5 H1.0 V1.9 H2.3" stroke="#1c1c1c" stroke-width="1.1" fill="none"/></g><g transform="translate(377.60,524.70) skewX(-10)"><rect x="1.35" y="-6.7" width="1.2" height="6.7" fill="#1c1c1c"/><path d="M2.3 -6.3 L0.3 -4.5" stroke="#1c1c1c" stroke-width="1.3" fill="none"/></g><g transform="translate(382.00,524.70) skewX(-10)"><path d="M0.2 -6.5 H1.5 V1.9 H0.2" stroke="#1c1c1c" stroke-width="1.1" fill="none"/></g>
<rect x="419" y="431" width="34" height="1" fill="#808080" fill-opacity="0.5"/>
<g transform="translate(434.50,427.70) skewX(-10)"><ellipse cx="2.4" cy="-3.45" rx="1.85" ry="2.9" stroke="#1c1c1c" stroke-width="1.0" fill="none"/></g><rect x="439.80" y="426.40" width="1.1" height="1.3" fill="#505050"/><rect x="442.20" y="426.40" width="1.1" height="1.3" fill="#8c8c8c"/><g transform="translate(444.50,427.70)"><path d="M2.70 -5.00 L2.70 -6.90 M2.70 -5.00 L4.51 -5.59 M2.70 -5.00 L3.82 -3.46 M2.70 -5.00 L1.58 -3.46 M2.70 -5.00 L0.89 -5.59 " stroke="#1c1c1c" stroke-width="0.9" stroke-opacity="0.6" fill="none"/><circle cx="2.7" cy="-5.0" r="1.1" fill="#1c1c1c"/></g>
<rect x="453" y="419" width="147" height="26" rx="0" fill="#000" fill-opacity="0.03"/>
<rect x="454" y="420" width="147" height="26" rx="0" fill="#000" fill-opacity="0.03"/>
<rect x="455" y="421" width="147" height="26" rx="0" fill="#000" fill-opacity="0.03"/>
<rect x="452" y="418" width="147" height="26" rx="0" fill="#fff"/>
<rect x="452" y="418" width="147" height="26" rx="0" fill="url(#elgrad)"/>
<path d="M452 418 H598.5" stroke="#9c9696" stroke-width="1" fill="none" stroke-dasharray="5.5,3"/>
<path d="M452.5 421 V443" stroke="#9c9696" stroke-opacity="0.75" stroke-width="1" fill="none" stroke-dasharray="5.5,3"/>
<path d="M598.5 418 V443.5" stroke="#9c9696" stroke-width="1" fill="none" stroke-dasharray="5.5,3"/>
<path d="M453 443.5 H599" stroke="#9c9696" stroke-width="1" fill="none" stroke-dasharray="5.5,3"/>
<rect x="457.5" y="423.5" width="21" height="14" fill="url(#egrad)"/>
<rect x="457.5" y="423.5" width="21" height="14" fill="url(#egrad2)"/>
<rect x="457.5" y="423.5" width="21" height="14" fill="none" stroke="#5e5050"/>
<rect x="457" y="424" width="1" height="13" fill="#a09494"/>
<text class="badge" x="469" y="434.5" text-anchor="middle">E</text>
<text x="484" y="433" font-size="11" font-weight="bold" font-style="normal" fill="#383838" text-anchor="start" >&lt;Ref&gt;</text>
<text x="535" y="433" font-size="11" font-weight="bold" font-style="normal" fill="#383838" text-anchor="start" >:</text>
<text x="542.5" y="433" font-size="11" font-weight="bold" font-style="normal" fill="#383838" text-anchor="start" >Producer</text>
<rect x="599" y="427" width="10" height="10" fill="#000" fill-opacity="0.05"/>
<rect x="598.5" y="426.5" width="9" height="9" fill="#fff" stroke="#b0b0b0"/>
<rect x="602.0" y="428" width="1.2" height="6" fill="#b0b0b0"/>
<rect x="600.0" y="430.0" width="5.5" height="1.2" fill="#c8c8c8"/>
<rect x="419" y="463" width="34" height="1" fill="#808080" fill-opacity="0.5"/>
<g transform="translate(435.40,459.70) skewX(-10)"><rect x="1.35" y="-6.7" width="1.2" height="6.7" fill="#1c1c1c"/><path d="M2.3 -6.3 L0.3 -4.5" stroke="#1c1c1c" stroke-width="1.3" fill="none"/></g><rect x="439.80" y="458.40" width="1.1" height="1.3" fill="#505050"/><rect x="442.20" y="458.40" width="1.1" height="1.3" fill="#8c8c8c"/><g transform="translate(444.50,459.70)"><path d="M2.70 -5.00 L2.70 -6.90 M2.70 -5.00 L4.51 -5.59 M2.70 -5.00 L3.82 -3.46 M2.70 -5.00 L1.58 -3.46 M2.70 -5.00 L0.89 -5.59 " stroke="#1c1c1c" stroke-width="0.9" stroke-opacity="0.6" fill="none"/><circle cx="2.7" cy="-5.0" r="1.1" fill="#1c1c1c"/></g>
<rect x="453" y="451" width="200" height="26" rx="0" fill="#000" fill-opacity="0.03"/>
<rect x="454" y="452" width="200" height="26" rx="0" fill="#000" fill-opacity="0.03"/>
<rect x="455" y="453" width="200" height="26" rx="0" fill="#000" fill-opacity="0.03"/>
<rect x="452" y="450" width="200" height="26" rx="0" fill="#fff"/>
<rect x="452" y="450" width="200" height="26" rx="0" fill="url(#elgrad)"/>
<rect x="452" y="450" width="199.5" height="25.5" rx="0" fill="none" stroke="#9c9696" stroke-width="1"/>
<rect x="457.5" y="455.5" width="21" height="14" fill="url(#egrad)"/>
<rect x="457.5" y="455.5" width="21" height="14" fill="url(#egrad2)"/>
<rect x="457.5" y="455.5" width="21" height="14" fill="none" stroke="#5e5050"/>
<rect x="457" y="456" width="1" height="13" fill="#a09494"/>
<text class="badge" x="469" y="466.5" text-anchor="middle">E</text>
<text x="484" y="465" font-size="11" font-weight="bold" font-style="normal" fill="#383838" text-anchor="start" >&lt;Ref&gt;</text>
<text x="535" y="465" font-size="11" font-weight="bold" font-style="normal" fill="#383838" text-anchor="start" >:</text>
<text x="542.5" y="465" font-size="11" font-weight="bold" font-style="normal" fill="#383838" text-anchor="start" >InsuredOrPrincipal</text>
<rect x="652" y="459" width="10" height="10" fill="#000" fill-opacity="0.05"/>
<rect x="651.5" y="458.5" width="9" height="9" fill="#fff" stroke="#b0b0b0"/>
<rect x="655.0" y="460" width="1.2" height="6" fill="#b0b0b0"/>
<rect x="653.0" y="462.0" width="5.5" height="1.2" fill="#c8c8c8"/>
<rect x="419" y="495" width="36" height="1" fill="#808080" fill-opacity="0.5"/>
<g transform="translate(435.40,491.70) skewX(-10)"><rect x="1.35" y="-6.7" width="1.2" height="6.7" fill="#1c1c1c"/><path d="M2.3 -6.3 L0.3 -4.5" stroke="#1c1c1c" stroke-width="1.3" fill="none"/></g><rect x="439.80" y="490.40" width="1.1" height="1.3" fill="#505050"/><rect x="442.20" y="490.40" width="1.1" height="1.3" fill="#8c8c8c"/><g transform="translate(445.40,491.70) skewX(-10)"><rect x="1.35" y="-6.7" width="1.2" height="6.7" fill="#1c1c1c"/><path d="M2.3 -6.3 L0.3 -4.5" stroke="#1c1c1c" stroke-width="1.3" fill="none"/></g>
<rect x="455" y="483" width="155" height="26" rx="0" fill="#000" fill-opacity="0.03"/>
<rect x="456" y="484" width="155" height="26" rx="0" fill="#000" fill-opacity="0.03"/>
<rect x="457" y="485" width="155" height="26" rx="0" fill="#000" fill-opacity="0.03"/>
<rect x="454" y="482" width="155" height="26" rx="0" fill="#fff"/>
<rect x="454" y="482" width="155" height="26" rx="0" fill="url(#elgrad)"/>
<rect x="454" y="482" width="154.5" height="25.5" rx="0" fill="none" stroke="#9c9696" stroke-width="1"/>
<rect x="459.5" y="487.5" width="21" height="14" fill="url(#egrad)"/>
<rect x="459.5" y="487.5" width="21" height="14" fill="url(#egrad2)"/>
<rect x="459.5" y="487.5" width="21" height="14" fill="none" stroke="#5e5050"/>
<rect x="459" y="488" width="1" height="13" fill="#a09494"/>
<text class="badge" x="471" y="498.5" text-anchor="middle">E</text>
<text x="486" y="497" font-size="11" font-weight="bold" font-style="normal" fill="#383838" text-anchor="start" >&lt;Ref&gt;</text>
<text x="537" y="497" font-size="11" font-weight="bold" font-style="normal" fill="#383838" text-anchor="start" >:</text>
<text x="544.5" y="497" font-size="11" font-weight="bold" font-style="normal" fill="#383838" text-anchor="start" >PersPolicy</text>
<rect x="609" y="491" width="10" height="10" fill="#000" fill-opacity="0.05"/>
<rect x="608.5" y="490.5" width="9" height="9" fill="#fff" stroke="#b0b0b0"/>
<rect x="612.0" y="492" width="1.2" height="6" fill="#b0b0b0"/>
<rect x="610.0" y="494.0" width="5.5" height="1.2" fill="#c8c8c8"/>
<rect x="419" y="527" width="34" height="1" fill="#808080" fill-opacity="0.5"/>
<g transform="translate(434.50,523.70) skewX(-10)"><ellipse cx="2.4" cy="-3.45" rx="1.85" ry="2.9" stroke="#1c1c1c" stroke-width="1.0" fill="none"/></g><rect x="439.80" y="522.40" width="1.1" height="1.3" fill="#505050"/><rect x="442.20" y="522.40" width="1.1" height="1.3" fill="#8c8c8c"/><g transform="translate(444.50,523.70)"><path d="M2.70 -5.00 L2.70 -6.90 M2.70 -5.00 L4.51 -5.59 M2.70 -5.00 L3.82 -3.46 M2.70 -5.00 L1.58 -3.46 M2.70 -5.00 L0.89 -5.59 " stroke="#1c1c1c" stroke-width="0.9" stroke-opacity="0.6" fill="none"/><circle cx="2.7" cy="-5.0" r="1.1" fill="#1c1c1c"/></g>
<rect x="453" y="515" width="145" height="26" rx="0" fill="#000" fill-opacity="0.03"/>
<rect x="454" y="516" width="145" height="26" rx="0" fill="#000" fill-opacity="0.03"/>
<rect x="455" y="517" width="145" height="26" rx="0" fill="#000" fill-opacity="0.03"/>
<rect x="452" y="514" width="145" height="26" rx="0" fill="#fff"/>
<rect x="452" y="514" width="145" height="26" rx="0" fill="url(#elgrad)"/>
<path d="M452 514 H596.5" stroke="#9c9696" stroke-width="1" fill="none" stroke-dasharray="5.5,3"/>
<path d="M452.5 517 V539" stroke="#9c9696" stroke-opacity="0.75" stroke-width="1" fill="none" stroke-dasharray="5.5,3"/>
<path d="M596.5 514 V539.5" stroke="#9c9696" stroke-width="1" fill="none" stroke-dasharray="5.5,3"/>
<path d="M453 539.5 H597" stroke="#9c9696" stroke-width="1" fill="none" stroke-dasharray="5.5,3"/>
<rect x="457.5" y="519.5" width="21" height="14" fill="url(#egrad)"/>
<rect x="457.5" y="519.5" width="21" height="14" fill="url(#egrad2)"/>
<rect x="457.5" y="519.5" width="21" height="14" fill="none" stroke="#5e5050"/>
<rect x="457" y="520" width="1" height="13" fill="#a09494"/>
<text class="badge" x="469" y="530.5" text-anchor="middle">E</text>
<text x="484" y="529" font-size="11" font-weight="bold" font-style="normal" fill="#383838" text-anchor="start" >&lt;Ref&gt;</text>
<text x="535" y="529" font-size="11" font-weight="bold" font-style="normal" fill="#383838" text-anchor="start" >:</text>
<text x="542.5" y="529" font-size="11" font-weight="bold" font-style="normal" fill="#383838" text-anchor="start" >Location</text>
<rect x="597" y="523" width="10" height="10" fill="#000" fill-opacity="0.05"/>
<rect x="596.5" y="522.5" width="9" height="9" fill="#fff" stroke="#b0b0b0"/>
<rect x="600.0" y="524" width="1.2" height="6" fill="#b0b0b0"/>
<rect x="598.0" y="526.0" width="5.5" height="1.2" fill="#c8c8c8"/>
<rect x="419" y="559" width="36" height="1" fill="#808080" fill-opacity="0.5"/>
<g transform="translate(435.40,555.70) skewX(-10)"><rect x="1.35" y="-6.7" width="1.2" height="6.7" fill="#1c1c1c"/><path d="M2.3 -6.3 L0.3 -4.5" stroke="#1c1c1c" stroke-width="1.3" fill="none"/></g><rect x="439.80" y="554.40" width="1.1" height="1.3" fill="#505050"/><rect x="442.20" y="554.40" width="1.1" height="1.3" fill="#8c8c8c"/><g transform="translate(445.40,555.70) skewX(-10)"><rect x="1.35" y="-6.7" width="1.2" height="6.7" fill="#1c1c1c"/><path d="M2.3 -6.3 L0.3 -4.5" stroke="#1c1c1c" stroke-width="1.3" fill="none"/></g>
<rect x="455" y="547" width="202" height="26" rx="0" fill="#000" fill-opacity="0.03"/>
<rect x="456" y="548" width="202" height="26" rx="0" fill="#000" fill-opacity="0.03"/>
<rect x="457" y="549" width="202" height="26" rx="0" fill="#000" fill-opacity="0.03"/>
<rect x="454" y="546" width="202" height="26" rx="0" fill="#fff"/>
<rect x="454" y="546" width="202" height="26" rx="0" fill="url(#elgrad)"/>
<rect x="454" y="546" width="201.5" height="25.5" rx="0" fill="none" stroke="#9c9696" stroke-width="1"/>
<rect x="459.5" y="551.5" width="21" height="14" fill="url(#egrad)"/>
<rect x="459.5" y="551.5" width="21" height="14" fill="url(#egrad2)"/>
<rect x="459.5" y="551.5" width="21" height="14" fill="none" stroke="#5e5050"/>
<rect x="459" y="552" width="1" height="13" fill="#a09494"/>
<text class="badge" x="471" y="562.5" text-anchor="middle">E</text>
<text x="486" y="561" font-size="11" font-weight="bold" font-style="normal" fill="#383838" text-anchor="start" >&lt;Ref&gt;</text>
<text x="537" y="561" font-size="11" font-weight="bold" font-style="normal" fill="#383838" text-anchor="start" >:</text>
<text x="544.5" y="561" font-size="11" font-weight="bold" font-style="normal" fill="#383838" text-anchor="start" >HomeLineBusiness</text>
<rect x="656" y="555" width="10" height="10" fill="#000" fill-opacity="0.05"/>
<rect x="655.5" y="554.5" width="9" height="9" fill="#fff" stroke="#b0b0b0"/>
<rect x="659.0" y="556" width="1.2" height="6" fill="#b0b0b0"/>
<rect x="657.0" y="558.0" width="5.5" height="1.2" fill="#c8c8c8"/>
<rect x="419" y="591" width="34" height="1" fill="#808080" fill-opacity="0.5"/>
<g transform="translate(434.50,587.70) skewX(-10)"><ellipse cx="2.4" cy="-3.45" rx="1.85" ry="2.9" stroke="#1c1c1c" stroke-width="1.0" fill="none"/></g><rect x="439.80" y="586.40" width="1.1" height="1.3" fill="#505050"/><rect x="442.20" y="586.40" width="1.1" height="1.3" fill="#8c8c8c"/><g transform="translate(444.50,587.70)"><path d="M2.70 -5.00 L2.70 -6.90 M2.70 -5.00 L4.51 -5.59 M2.70 -5.00 L3.82 -3.46 M2.70 -5.00 L1.58 -3.46 M2.70 -5.00 L0.89 -5.59 " stroke="#1c1c1c" stroke-width="0.9" stroke-opacity="0.6" fill="none"/><circle cx="2.7" cy="-5.0" r="1.1" fill="#1c1c1c"/></g>
<rect x="453" y="579" width="163" height="26" rx="0" fill="#000" fill-opacity="0.03"/>
<rect x="454" y="580" width="163" height="26" rx="0" fill="#000" fill-opacity="0.03"/>
<rect x="455" y="581" width="163" height="26" rx="0" fill="#000" fill-opacity="0.03"/>
<rect x="452" y="578" width="163" height="26" rx="0" fill="#fff"/>
<rect x="452" y="578" width="163" height="26" rx="0" fill="url(#elgrad)"/>
<path d="M452 578 H614.5" stroke="#9c9696" stroke-width="1" fill="none" stroke-dasharray="5.5,3"/>
<path d="M452.5 581 V603" stroke="#9c9696" stroke-opacity="0.75" stroke-width="1" fill="none" stroke-dasharray="5.5,3"/>
<path d="M614.5 578 V603.5" stroke="#9c9696" stroke-width="1" fill="none" stroke-dasharray="5.5,3"/>
<path d="M453 603.5 H615" stroke="#9c9696" stroke-width="1" fill="none" stroke-dasharray="5.5,3"/>
<rect x="457.5" y="583.5" width="21" height="14" fill="url(#egrad)"/>
<rect x="457.5" y="583.5" width="21" height="14" fill="url(#egrad2)"/>
<rect x="457.5" y="583.5" width="21" height="14" fill="none" stroke="#5e5050"/>
<rect x="457" y="584" width="1" height="13" fill="#a09494"/>
<text class="badge" x="469" y="594.5" text-anchor="middle">E</text>
<text x="484" y="593" font-size="11" font-weight="bold" font-style="normal" fill="#383838" text-anchor="start" >&lt;Ref&gt;</text>
<text x="535" y="593" font-size="11" font-weight="bold" font-style="normal" fill="#383838" text-anchor="start" >:</text>
<text x="542.5" y="593" font-size="11" font-weight="bold" font-style="normal" fill="#383838" text-anchor="start" >RemarkText</text>
<rect x="615" y="587" width="10" height="10" fill="#000" fill-opacity="0.05"/>
<rect x="614.5" y="586.5" width="9" height="9" fill="#fff" stroke="#b0b0b0"/>
<rect x="618.0" y="588" width="1.2" height="6" fill="#b0b0b0"/>
<rect x="616.0" y="590.0" width="5.5" height="1.2" fill="#c8c8c8"/>
<rect x="419" y="623" width="34" height="1" fill="#808080" fill-opacity="0.5"/>
<g transform="translate(434.50,619.70) skewX(-10)"><ellipse cx="2.4" cy="-3.45" rx="1.85" ry="2.9" stroke="#1c1c1c" stroke-width="1.0" fill="none"/></g><rect x="439.80" y="618.40" width="1.1" height="1.3" fill="#505050"/><rect x="442.20" y="618.40" width="1.1" height="1.3" fill="#8c8c8c"/><g transform="translate(444.50,619.70)"><path d="M2.70 -5.00 L2.70 -6.90 M2.70 -5.00 L4.51 -5.59 M2.70 -5.00 L3.82 -3.46 M2.70 -5.00 L1.58 -3.46 M2.70 -5.00 L0.89 -5.59 " stroke="#1c1c1c" stroke-width="0.9" stroke-opacity="0.6" fill="none"/><circle cx="2.7" cy="-5.0" r="1.1" fill="#1c1c1c"/></g>
<rect x="453" y="611" width="201" height="26" rx="0" fill="#000" fill-opacity="0.03"/>
<rect x="454" y="612" width="201" height="26" rx="0" fill="#000" fill-opacity="0.03"/>
<rect x="455" y="613" width="201" height="26" rx="0" fill="#000" fill-opacity="0.03"/>
<rect x="452" y="610" width="201" height="26" rx="0" fill="#fff"/>
<rect x="452" y="610" width="201" height="26" rx="0" fill="url(#elgrad)"/>
<path d="M452 610 H652.5" stroke="#9c9696" stroke-width="1" fill="none" stroke-dasharray="5.5,3"/>
<path d="M452.5 613 V635" stroke="#9c9696" stroke-opacity="0.75" stroke-width="1" fill="none" stroke-dasharray="5.5,3"/>
<path d="M652.5 610 V635.5" stroke="#9c9696" stroke-width="1" fill="none" stroke-dasharray="5.5,3"/>
<path d="M453 635.5 H653" stroke="#9c9696" stroke-width="1" fill="none" stroke-dasharray="5.5,3"/>
<rect x="457.5" y="615.5" width="21" height="14" fill="url(#egrad)"/>
<rect x="457.5" y="615.5" width="21" height="14" fill="url(#egrad2)"/>
<rect x="457.5" y="615.5" width="21" height="14" fill="none" stroke="#5e5050"/>
<rect x="457" y="616" width="1" height="13" fill="#a09494"/>
<text class="badge" x="469" y="626.5" text-anchor="middle">E</text>
<text x="484" y="625" font-size="11" font-weight="bold" font-style="normal" fill="#383838" text-anchor="start" >&lt;Ref&gt;</text>
<text x="535" y="625" font-size="11" font-weight="bold" font-style="normal" fill="#383838" text-anchor="start" >:</text>
<text x="542.5" y="625" font-size="11" font-weight="bold" font-style="normal" fill="#383838" text-anchor="start" >FileAttachmentInfo</text>
<rect x="653" y="619" width="10" height="10" fill="#000" fill-opacity="0.05"/>
<rect x="652.5" y="618.5" width="9" height="9" fill="#fff" stroke="#b0b0b0"/>
<rect x="656.0" y="620" width="1.2" height="6" fill="#b0b0b0"/>
<rect x="654.0" y="622.0" width="5.5" height="1.2" fill="#c8c8c8"/>
<rect x="392" y="421" width="30" height="221" fill="#000" fill-opacity="0.07"/>
<rect x="389" y="418" width="30" height="221" rx="1" fill="#fff"/>
<rect x="389" y="418" width="30" height="221" rx="1" fill="url(#bargrad)"/>
<rect x="389" y="418" width="29.5" height="220.5" rx="1" fill="none" stroke="#a0a0a0" stroke-width="1"/>
<path d="M398.7 528.5 H410.7 M410.7 522.5 H404.5 V534.5 H410.7" fill="none" stroke="#404040" stroke-width="1"/>
<circle cx="398.7" cy="528.5" r="2.35" fill="url(#dotgrad)"/>
<circle cx="410.7" cy="522.5" r="2.35" fill="url(#dotgrad)"/>
<circle cx="410.7" cy="528.5" r="2.35" fill="url(#dotgrad)"/>
<circle cx="410.7" cy="534.5" r="2.35" fill="url(#dotgrad)"/>
<rect x="275" y="149" width="30" height="391" fill="#000" fill-opacity="0.07"/>
<rect x="272" y="146" width="30" height="391" rx="1" fill="#fff"/>
<rect x="272" y="146" width="30" height="391" rx="1" fill="url(#bargrad)"/>
<rect x="272" y="146" width="29.5" height="390.5" rx="1" fill="none" stroke="#a0a0a0" stroke-width="1"/>
<path d="M281.7 341.5 H293.7 M293.7 335.5 H287.5 V347.5 H293.7" fill="none" stroke="#404040" stroke-width="1"/>
<circle cx="281.7" cy="341.5" r="2.35" fill="url(#dotgrad)"/>
<circle cx="293.7" cy="335.5" r="2.35" fill="url(#dotgrad)"/>
<circle cx="293.7" cy="341.5" r="2.35" fill="url(#dotgrad)"/>
<circle cx="293.7" cy="347.5" r="2.35" fill="url(#dotgrad)"/>
</svg></body></html>
